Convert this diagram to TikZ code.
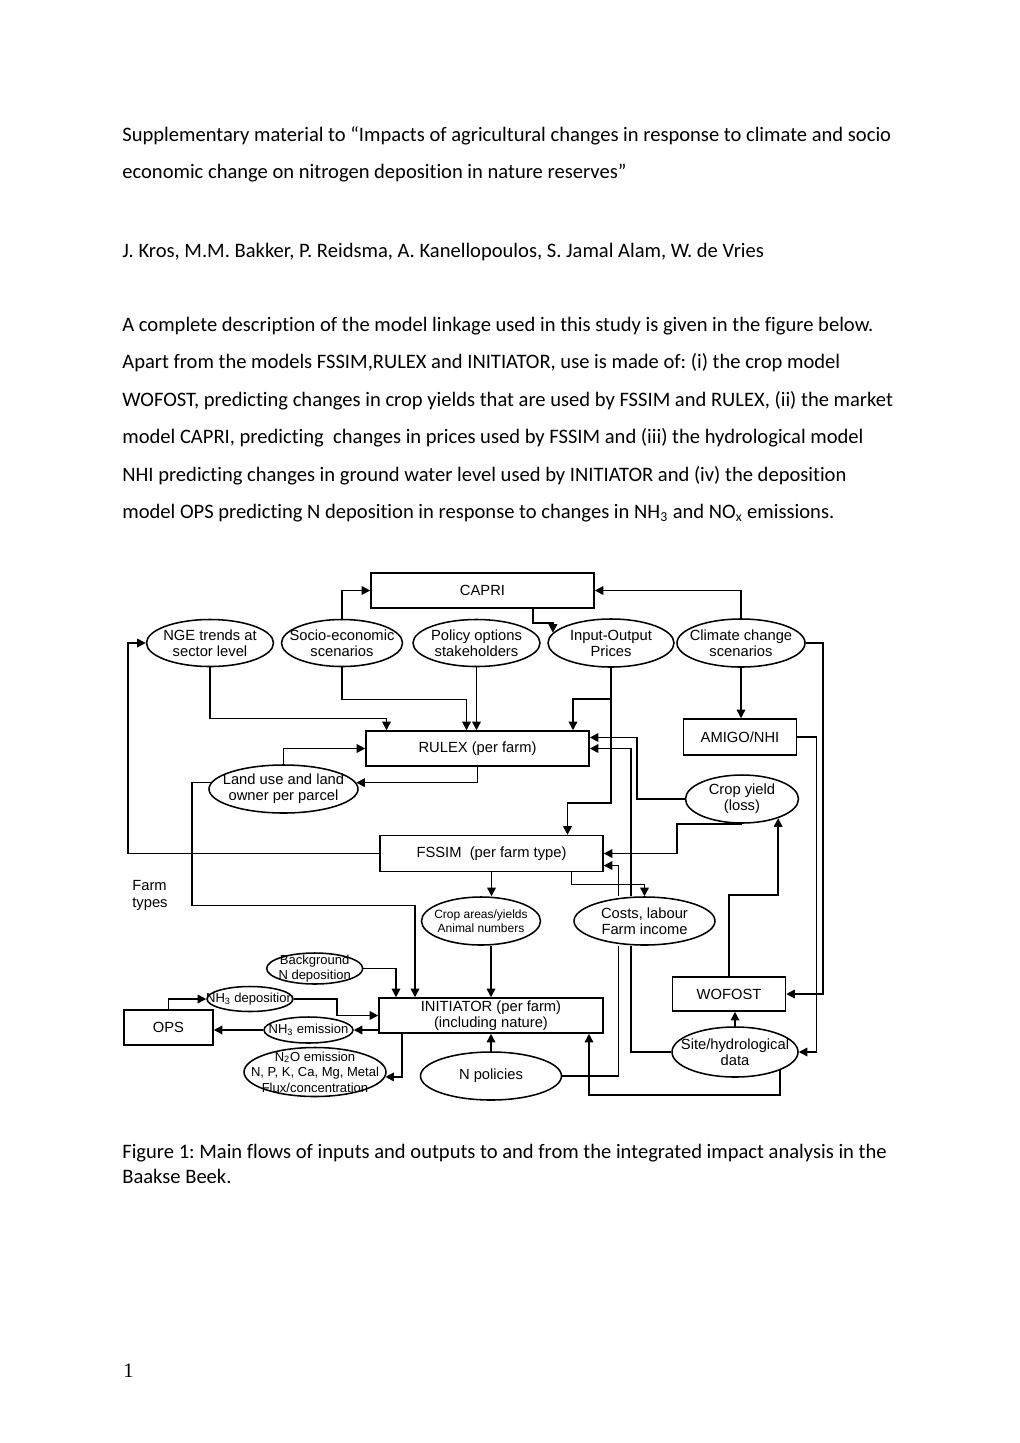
\documentclass[tikz,border=0pt]{standalone}
\usepackage{fontspec}
\setmainfont{Carlito}[Ligatures=NoCommon]
\newfontfamily\diagfont{Liberation Sans}
\newfontfamily\pagefont{Liberation Serif}
\usepackage{xcolor}
\usepackage{tikz}
\usetikzlibrary{shapes.geometric,arrows.meta}
\frenchspacing

\newcommand{\pxu}{0.5835pt}
\newcommand{\dfont}{\diagfont\fontsize{8.6}{9.4}\selectfont}
\newcommand{\dsmall}{\diagfont\fontsize{7.6}{9}\selectfont}
\newcommand{\dtiny}{\diagfont\fontsize{7}{8.2}\selectfont}
\newcommand{\bodyfont}{\fontsize{12}{14}\selectfont}

\begin{document}
\begin{tikzpicture}[x=\pxu, y=-\pxu,
  bodyline/.style={anchor=base west, inner sep=0pt, font=\bodyfont},
  modelbox/.style 2 args={draw, line width=0.9pt, minimum width=#1*\pxu, minimum height=#2*\pxu, inner sep=0pt, align=center, font=\dfont},
  oval/.style 2 args={draw, ellipse, line width=0.9pt, minimum width=#1*\pxu, minimum height=#2*\pxu, inner sep=-40pt, align=center, font=\dfont},
  link/.style={line width=0.9pt},
  flow/.style={link, -{Triangle[length=5pt,width=5pt]}}]
\useasboundingbox[fill=white] (0,0) rectangle (1020,1443);

% page text
\node[bodyline] (title1) at (122,141) {Supplementary material to “Impacts of agricultural changes in response to climate and socio};
\node[bodyline] (title2) at (122,178) {economic change on nitrogen deposition in nature reserves”};
\node[bodyline] (authors) at (122,257) {J. Kros, M.M. Bakker, P. Reidsma, A. Kanellopoulos, S. Jamal Alam, W. de Vries};

\node[bodyline] (par1) at (122,331) {A complete description of the model linkage used in this study is given in the figure below.};
\node[bodyline] (par2) at (122,368.5) {Apart from the models FSSIM,RULEX and INITIATOR, use is made of: (i) the crop model};
\node[bodyline] (par3) at (122,406) {WOFOST, predicting changes in crop yields that are used by FSSIM and RULEX, (ii) the market};
\node[bodyline] (par4) at (122,443.5) {model CAPRI, predicting\ \ changes in prices used by FSSIM and (iii) the hydrological model};
\node[bodyline] (par5) at (122,481) {NHI predicting changes in ground water level used by INITIATOR and (iv) the deposition};
\node[bodyline] (par6) at (122,518.5) {model OPS predicting N deposition in response to changes in NH\textsubscript{3} and NO\textsubscript{x} emissions.};

% models and data
\node[modelbox={223}{35}] (capri) at (482.5,590.5) {CAPRI};
\node[oval={127}{47}] (nge) at (210,643) {NGE trends at\\sector level};
\node[oval={121}{47}] (socio) at (342,643) {Socio-economic\\scenarios};
\node[oval={127}{47}] (policy) at (476.5,643) {Policy options\\stakeholders};
\node[oval={126}{48}] (prices) at (611,643) {Input-Output\\Prices};
\node[oval={128}{48}] (climate) at (741,643) {Climate change\\scenarios};

\node[modelbox={223}{35}] (rulex) at (477.5,748.5) {RULEX (per farm)};
\node[modelbox={113}{36}] (amigo) at (740,737) {AMIGO/NHI};
\node[oval={149}{48}] (landuse) at (283.5,789) {Land use and land\\owner per parcel};
\node[oval={113}{48}] (cropyield) at (742,799) {Crop yield\\(loss)};

\node[modelbox={223}{36}] (fssim) at (491.5,853.5) {FSSIM~ (per farm type)};
\node[anchor=west, align=left, inner sep=0pt, font=\dfont] (farmtypes) at (132,895.5) {Farm\\types};
\node[oval={119}{48}, font=\dtiny] (areas) at (481,921) {Crop areas/yields\\Animal numbers};
\node[oval={141}{48}] (costs) at (644.5,921) {Costs, labour\\Farm income};

\node[oval={96}{31}, font=\dsmall] (background) at (314.7,968.5) {Background\\N deposition};
\node[oval={86}{25}, font=\dsmall] (nhdep) at (250,999) {NH\textsubscript{3} deposition};
\node[modelbox={113}{34}] (wofost) at (729,994) {WOFOST};
\node[modelbox={224}{35}] (initiator) at (491,1015.5) {INITIATOR (per farm)\\(including nature)};
\node[modelbox={89}{35}] (ops) at (168.5,1027.5) {OPS};
\node[oval={89}{26}, font=\dsmall] (nhem) at (308.5,1030) {NH\textsubscript{3} emission};
\node[oval={126}{50}] (site) at (735,1052) {Site/hydrological\\data};
\node[oval={142}{49}, font=\dsmall] (ntwoo) at (315,1072) {N\textsubscript{2}O emission\\N, P, K, Ca, Mg, Metal\\Flux/concentration};
\node[oval={141}{48}] (npolicy) at (491,1076) {N policies};

% flows
\draw[flow] (socio.north) |- (capri.west);
\draw[flow] (capri.south east) ++(-62,0) -- ++(0,14) -| (prices.170);
\draw[flow] (climate.north) |- (capri.east);
\draw[flow] (nge.south) -- ++(0,51) -| ([xshift=-91*\pxu]rulex.north);
\draw[flow] (socio.south) -- ++(0,32) -| ([xshift=-11*\pxu]rulex.north);
\draw[flow] (policy.south) -- (policy.south |- rulex.north);
\draw[flow] (prices.south) -- ++(0,31) -| ([xshift=95.5*\pxu]rulex.north);
\draw[flow] (prices.south) -- ++(0,135) -| ([xshift=76*\pxu]fssim.north);
\draw[flow] (climate.south) -- (climate.south |- amigo.north);
\draw[flow] (climate.east) -- ++(17,0) |- (wofost.east);
\draw[flow] (amigo.east) -- ++(19,0) |- (site.east);
\draw[flow] (cropyield.west) -- ++(-48,0) |- ([yshift=11*\pxu]rulex.east);
\draw[flow] ([xshift=-13.5*\pxu]costs.north) |- (rulex.east);
\draw[flow] ([xshift=-26*\pxu]costs.north) |- ([yshift=-12*\pxu]fssim.east);
\draw[flow] (cropyield.south) -- ++(-65,0) |- (fssim.east);
\draw[flow] (wofost.north) -- ++(0,-81) -| (cropyield.-28);
\draw[flow] ([xshift=80*\pxu]fssim.south) -- ++(0,12) -| (costs.north);
\draw[flow] (fssim.south) -- (fssim.south |- areas.north);
\draw[flow] (fssim.west) -- ++(-251,0) |- (nge.west);
\draw[flow] (landuse.north) |- (rulex.west);
\draw[flow] (rulex.south) |- (landuse.5);
\draw[flow] (landuse.175) -- ++(-19,0) -- ++(0,123) -| ([xshift=-76*\pxu]initiator.north);
\draw[flow] (areas.south -| initiator.north) -- (initiator.north);
\draw[flow] (background.east) -| ([xshift=-95*\pxu]initiator.north);
\draw[flow] (nhdep.east) -- ++(43,0) |- (initiator.west);
\draw[flow] (initiator.west |- nhem.east) -- (nhem.east);
\draw[flow] (nhem.west) -- (nhem.west -| ops.east);
\draw[flow] (ops.north) |- (nhdep.west);
\draw[flow] ([xshift=-89*\pxu]initiator.south) |- (ntwoo.-4);
\draw[flow] (npolicy.north) -- (initiator.south);
\draw[link] ([xshift=-26*\pxu]costs.south) |- (npolicy.east);
\draw[link] ([xshift=-13.5*\pxu]costs.south) |- (site.west);
\draw[flow] (site.-22) -- ++(0,24.5) -| ([xshift=98*\pxu]initiator.south);
\draw[flow] (site.north) -- (site.north |- wofost.south);

% caption
\node[bodyline] (caption1) at (122,1158) {Figure 1: Main flows of inputs and outputs to and from the integrated impact analysis in the};
\node[bodyline] (caption2) at (122,1183) {Baakse Beek.};
\node[anchor=base west, inner sep=0pt, font=\pagefont\fontsize{12}{14}\selectfont] (pagenum) at (123,1377.7) {1};
\end{tikzpicture}
\end{document}
